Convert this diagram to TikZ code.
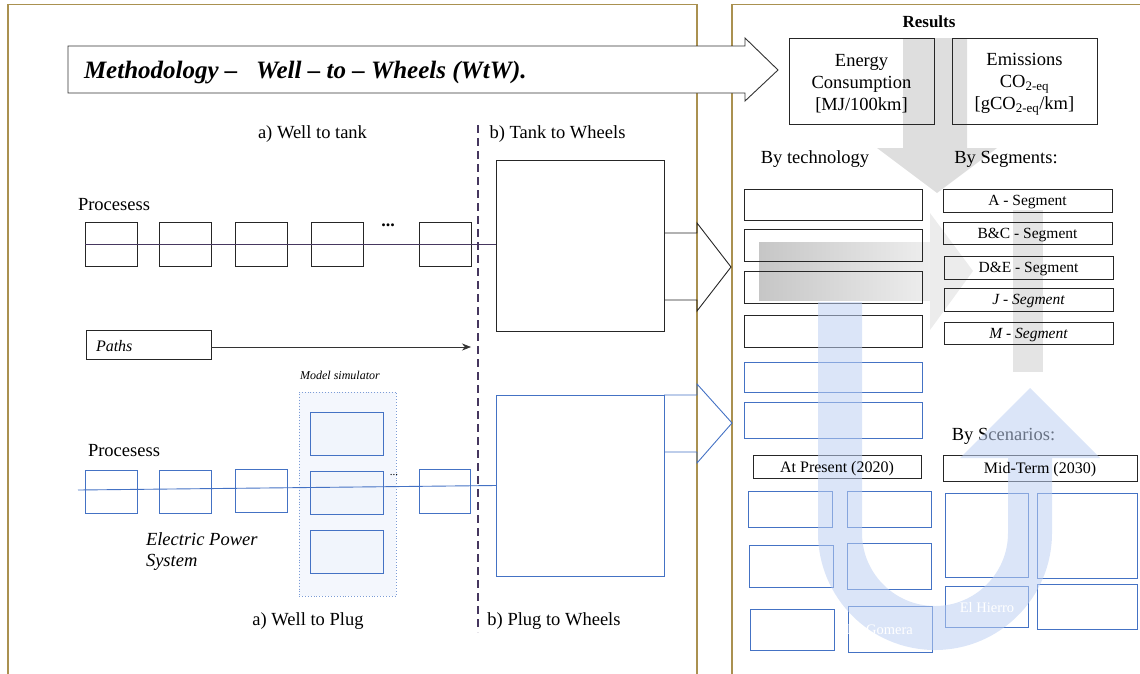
\documentclass[tikz,border=0pt]{standalone}
\usepackage{fontspec}
\setmainfont{Liberation Serif}
\usetikzlibrary{fit,arrows.meta,calc}
\pgfdeclarelayer{bg}\pgfdeclarelayer{ulay}\pgfdeclarelayer{fg}
\pgfsetlayers{bg,main,ulay,fg}
\definecolor{gold}{RGB}{170,145,80}
\definecolor{bluec}{RGB}{68,114,196}
\definecolor{purp}{RGB}{70,55,95}
\definecolor{ufill}{RGB}{190,208,242}
\definecolor{msfill}{RGB}{244,247,253}
\definecolor{inbox}{RGB}{241,245,252}
\definecolor{gdown}{RGB}{222,222,222}
\definecolor{ghead}{RGB}{236,236,236}
\definecolor{gup}{RGB}{228,228,228}
\definecolor{gdark}{RGB}{198,198,198}
\definecolor{glight}{RGB}{238,238,238}
\newcommand{\fsz}[2]{\fontsize{#1}{#2}\selectfont}
\begin{document}
\begin{tikzpicture}[x=1pt,y=-1pt,
  blk/.style={draw=black!85, line width=0.9pt, inner sep=0pt, outer sep=0pt},
  blu/.style={draw=bluec, line width=0.9pt, inner sep=0pt, outer sep=0pt},
  tx/.style={inner sep=0pt, outer sep=0pt, text=black},
  big/.style={font=\fsz{18.5}{22}, yshift=-2pt},
  seg/.style={font=\fsz{15.5}{18}, yshift=-2pt},
  wtx/.style={inner sep=0pt, text=white, font=\fsz{14.5}{17}}]
\useasboundingbox (0,0) rectangle (1140,673);

% ---------- background: frames and gray arrows ----------
\begin{pgfonlayer}{bg}
\draw[gold, line width=1.2pt] (8,700) -- (8,4.5) -- (697,4.5) -- (697,700);
\draw[gold, line width=1.2pt] (732,700) -- (732,4.5) -- (1160,4.5);
\fill[gdown] (903,38) -- (967,38) -- (967,148) -- (997,148) -- (937,193) -- (877,148) -- (903,148) -- cycle;
\shade[left color=gdark, right color=glight] (759,242) rectangle (930,300);
\fill[ghead] (930,213) -- (973,271) -- (930,330) -- cycle;
\fill[gup] (1013,210) rectangle (1043,372);
\end{pgfonlayer}

% ---------- title arrow ----------
\draw[fill=white, draw=black!80, line width=0.9pt] (68,46) -- (745,46) -- (745,38) -- (778,70) -- (745,101) -- (745,93) -- (68,93) -- cycle;
\node[tx, anchor=west, font=\fsz{25}{30}\bfseries\itshape, yshift=-3pt] (title) at (84,70) {Methodology –\ \ \ Well – to – Wheels (WtW).};

% ---------- left: well to tank ----------
\node[tx, big] (wtt) at (312.5,132) {a) Well to tank};
\node[tx, big] (ttw) at (557.5,132) {b) Tank to Wheels};
\node[tx, big] (proc1) at (114,203) {Procesess};
\node[blk, fit={(85,222)(137,266)}] (p1) {};
\node[blk, fit={(159,222)(211,266)}] (p2) {};
\node[blk, fit={(235,222)(287,266)}] (p3) {};
\node[blk, fit={(311,222)(363,266)}] (p4) {};
\node[blk, fit={(419,222)(471,266)}] (p5) {};
\node[tx, font=\fsz{18}{20}\bfseries] (dots1) at (388,225) {...};
\node[blk, fit={(496,160)(664,331)}] (tw) {};
\draw[purp, line width=0.8pt] (p1.west) -- (p1.west -| tw.west);
\draw[black!85, line width=0.9pt] (664,233) -- (697,233) -- (697,223) -- (731,267) -- (697,311) -- (697,300) -- (664,300);

\node[blk, fit={(86,330)(211,359)}] (paths) {};
\node[tx, anchor=west, font=\fsz{16}{19}\itshape, yshift=-1.5pt] (pathst) at (96,345) {Paths};
\coordinate (pathsend) at (471,347);
\draw[black!80, line width=0.7pt, -{Stealth[length=9pt,width=7pt]}] (paths.east |- pathsend) -- (pathsend);

\coordinate (dtop) at (478,125);
\coordinate (dbot) at (478,632);
\draw[purp, line width=1.8pt, dash pattern=on 8pt off 5pt] (dtop) -- (dbot);

% ---------- left: well to plug ----------
\node[tx, font=\fsz{12}{14}\itshape, yshift=-1pt] (mstxt) at (340,374) {Model simulator};
\node[draw=bluec!70, fill=msfill, line width=0.9pt, dotted, inner sep=0pt, fit={(299,392)(396,596)}] (ms) {};
\node[blu, fill=inbox, fit={(310,412)(383,455)}] (m1) {};
\node[blu, fill=inbox, fit={(310,471)(383,514)}] (m2) {};
\node[blu, fill=inbox, fit={(310,530)(383,573)}] (m3) {};
\node[tx, big] (proc2) at (124,449) {Procesess};
\node[blu, fit={(85,470)(137,513)}] (q1) {};
\node[blu, fit={(159,470)(211,513)}] (q2) {};
\node[blu, fit={(235,469)(287,512)}] (q3) {};
\node[blu, fit={(419,469)(470,513)}] (q5) {};
\node[tx, font=\fsz{11}{13}] (dots2) at (394,475) {...};
\node[blu, fit={(496,395)(664,576)}] (pw) {};
\coordinate (blstart) at (78,490);
\draw[bluec, line width=0.9pt] (blstart) -- (pw.west);
\draw[bluec, line width=0.9pt] (664,395) -- (697,395) -- (697,384) -- (732,423) -- (697,463) -- (697,452) -- (664,452);
\node[tx, anchor=west, align=left, font=\fsz{18.5}{21.5}\itshape, yshift=-2pt] (eps) at (146,549.5) {Electric Power\\System};
\node[tx, big] (wtp) at (308,619) {a) Well to Plug};
\node[tx, big] (ptw) at (554,619) {b) Plug to Wheels};

% ---------- right: results ----------
\node[tx, font=\fsz{17}{20}\bfseries, yshift=-1.5pt] (res) at (929,20) {Results};
\node[blk, fit={(789,38)(934,124)}] (en) {};
\node[tx, big, align=center, yshift=-1pt] (ent) at (en.center) {Energy\\Consumption\\{[MJ/100km]}};
\node[blk, fit={(952,38)(1097,124)}] (em) {};
\node[tx, big, align=center, yshift=-1pt] (emt) at (em.center) {Emissions\\CO\textsubscript{2-eq}\\{[gCO\textsubscript{2-eq}/km]}};

\node[tx, big] (bytech) at (815,157) {By technology};
\node[tx, big] (byseg) at (1006,157) {By Segments:};
\node[blk, fit={(744,189)(922,220)}] (t1) {};
\node[blk, fit={(744,229)(922,261)}] (t2) {};
\node[blk, fit={(744,271)(922,303)}] (t3) {};
\node[blk, fit={(744,315)(922,347)}] (t4) {};
\node[blu, fit={(744,362)(922,392)}] (t5) {};
\node[blu, fit={(744,402)(922,438)}] (t6) {};

\node[blk, fit={(943,189)(1112,212)}] (sa) {};
\node[blk, fit={(943,222)(1112,244)}] (sb) {};
\node[blk, fit={(944,256)(1113,279)}] (sd) {};
\node[blk, fit={(944,288)(1113,311)}] (sj) {};
\node[blk, fit={(944,322)(1113,344)}] (sm) {};

\node[tx, big] (byscen) at (1003.5,434) {By Scenarios:};
\node[blk, fit={(753,455)(921,478)}] (pres) {};
\node[blk, fit={(943,455)(1137,481)}] (mid) {};

\node[blu, fit={(748,491)(832,527)}] (a1) {};
\node[blu, fit={(847,491)(931,527)}] (a2) {};
\node[blu, fit={(749,545)(833,587)}] (a3) {};
\node[blu, fit={(847,543)(931,589)}] (a4) {};
\node[blu, fit={(750,609)(834,650)}] (a5) {};
\node[blu, fit={(848,606)(932,652)}] (a6) {};
\node[blu, fit={(945,493)(1028,577)}] (b1) {};
\node[blu, fit={(1037,493)(1137,578)}] (b2) {};
\node[blu, fit={(945,586)(1028,627)}] (b3) {};
\node[blu, fit={(1037,584)(1137,629)}] (b4) {};

% ---------- blue U arrow ----------
\begin{pgfonlayer}{ulay}
\fill[ufill, opacity=0.55] (818,302) -- (818,533) arc[start angle=180, end angle=360, radius=117pt]
  -- (1052,458) -- (1100,458) -- (1030,388) -- (960,458) -- (1008,458) -- (1008,533)
  arc[start angle=0, end angle=-180, radius=73pt] -- (862,302) -- cycle;
\end{pgfonlayer}

% ---------- texts on top ----------
\begin{pgfonlayer}{fg}
\node[tx, seg] (sat) at (sa.center) {A - Segment};
\node[tx, seg] (sbt) at (sb.center) {B\&C - Segment};
\node[tx, seg] (sdt) at (sd.center) {D\&E - Segment};
\node[tx, seg, font=\fsz{15.5}{18}\itshape] (sjt) at (sj.center) {J - Segment};
\node[tx, seg, font=\fsz{15.5}{18}\itshape] (smt) at (sm.center) {M - Segment};
\node[tx, seg, font=\fsz{16}{18}] (prest) at (pres.center) {At Present (2020)};
\node[tx, seg, font=\fsz{16}{18}] (midt) at (mid.center) {Mid-Term (2030)};
\node[wtx] (hierro) at (987,608) {El Hierro};
\node[wtx] (gomera) at (880,630) {La Gomera};
\end{pgfonlayer}
\end{tikzpicture}
\end{document}
